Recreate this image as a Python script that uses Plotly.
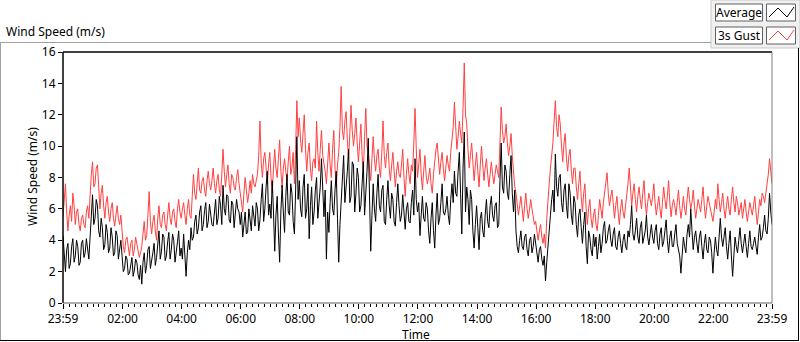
import plotly.graph_objects as go

# one row per hour, 2.5-minute samples, starting 23:59 (previous day)
average = [
    4.3, 2.8, 2.0, 3.4, 3.8, 2.2, 2.5, 3.6, 4.1, 2.6, 3.0, 4.0, 3.6, 2.4, 2.6, 3.8, 4.0, 2.9, 3.2, 4.1, 3.4, 2.8, 4.2, 5.6,
    6.9, 5.0, 5.4, 6.6, 6.2, 4.6, 4.2, 5.4, 4.8, 3.4, 3.7, 5.0, 4.5, 3.2, 3.5, 4.8, 4.2, 3.0, 3.2, 4.6, 4.3, 2.8, 3.4, 4.0,
    3.0, 2.0, 2.2, 3.0, 2.8, 1.8, 1.9, 2.6, 2.9, 1.7, 2.1, 2.8, 2.6, 1.8, 1.5, 2.4, 1.2, 2.6, 3.2, 1.9, 2.4, 3.4, 3.6, 2.2,
    2.6, 3.2, 3.8, 2.4, 2.9, 4.0, 4.6, 2.8, 3.3, 4.4, 4.2, 2.7, 3.0, 3.9, 4.5, 2.8, 3.4, 4.4, 4.0, 2.6, 3.1, 3.9, 4.6, 3.0,
    3.5, 2.8, 4.4, 3.0, 1.7, 3.2, 4.0, 3.4, 4.8, 4.0, 4.2, 5.2, 5.6, 4.4, 4.8, 5.8, 6.2, 4.6, 5.0, 5.9, 6.4, 4.8, 5.2, 6.3,
    5.8, 5.0, 4.9, 6.0, 6.6, 5.0, 5.4, 6.8, 6.2, 5.0, 7.5, 6.0, 5.6, 6.9, 6.8, 5.3, 5.1, 6.5, 6.3, 4.8, 5.5, 6.6, 6.0, 5.8,
    5.0, 5.8, 4.2, 5.2, 5.8, 4.4, 4.5, 6.0, 5.2, 4.6, 6.2, 5.4, 4.9, 6.4, 6.0, 4.6, 5.3, 6.6, 7.6, 5.2, 6.0, 7.4, 8.4, 5.6,
    6.3, 5.4, 7.8, 5.8, 3.3, 5.6, 6.8, 4.4, 2.6, 5.8, 7.5, 5.8, 4.5, 6.8, 8.2, 5.8, 5.6, 7.6, 7.0, 5.2, 4.4, 7.2, 10.6, 6.6,
    7.8, 6.0, 5.5, 7.4, 8.2, 5.4, 6.0, 7.6, 4.1, 6.2, 7.4, 5.0, 5.8, 7.2, 8.0, 5.4, 6.2, 7.4, 9.2, 6.8, 5.5, 7.2, 2.8, 5.8,
    4.5, 6.4, 7.8, 6.0, 5.6, 7.2, 8.4, 5.4, 2.6, 5.0, 6.8, 8.6, 9.4, 6.4, 7.2, 8.4, 9.8, 6.4, 6.8, 9.0, 8.8, 5.8, 7.0, 8.6,
    8.0, 5.8, 6.2, 7.8, 9.0, 5.6, 6.8, 8.4, 10.5, 6.6, 3.3, 5.6, 7.6, 6.0, 5.2, 7.0, 8.2, 6.2, 5.8, 7.2, 7.5, 5.2, 5.0, 6.6,
    7.8, 6.2, 5.4, 7.0, 6.6, 5.2, 4.9, 6.4, 7.6, 6.2, 5.2, 5.6, 6.9, 5.8, 4.7, 6.0, 6.4, 5.2, 5.1, 6.4, 7.2, 5.6, 9.2, 6.6,
    5.8, 6.4, 4.3, 5.6, 6.8, 5.4, 5.2, 6.4, 6.0, 4.6, 3.8, 5.4, 6.4, 4.6, 3.5, 5.6, 7.0, 5.0, 5.4, 6.4, 7.6, 5.8, 5.6, 6.0,
    6.8, 5.6, 5.0, 6.6, 7.6, 6.4, 8.4, 7.0, 6.8, 8.4, 9.6, 7.0, 4.4, 8.6, 10.9, 5.8, 7.4, 6.6, 5.0, 7.2, 6.6, 4.6, 3.5, 5.0,
    6.2, 4.8, 3.4, 5.4, 5.8, 4.6, 4.2, 5.6, 6.6, 5.2, 4.8, 6.2, 6.8, 5.6, 5.2, 6.2, 6.4, 4.8, 5.0, 7.8, 10.2, 7.4, 7.0, 8.8,
    8.4, 7.0, 6.6, 8.2, 9.4, 7.0, 5.8, 7.2, 4.6, 3.6, 3.2, 4.0, 4.6, 3.6, 3.4, 4.2, 4.4, 3.4, 3.0, 4.0, 4.2, 3.2, 3.6, 4.4,
    3.8, 3.2, 2.6, 3.4, 3.6, 2.8, 2.4, 3.0, 1.4, 2.6, 3.8, 4.8, 5.6, 6.6, 7.2, 5.8, 9.5, 7.4, 6.8, 8.0, 8.2, 6.4, 5.8, 7.2,
    7.6, 6.2, 5.4, 7.6, 7.0, 5.6, 5.0, 6.8, 6.4, 5.0, 4.2, 5.6, 6.0, 4.8, 3.8, 5.0, 5.8, 3.6, 2.5, 4.6, 4.2, 3.4, 3.0, 4.4,
    3.6, 4.2, 2.8, 3.6, 4.4, 3.2, 3.8, 4.8, 5.2, 3.8, 4.0, 4.6, 5.0, 4.0, 3.6, 4.4, 4.8, 3.6, 3.4, 4.2, 4.6, 3.8, 3.2, 4.0,
    4.4, 3.6, 3.4, 4.6, 4.2, 5.0, 6.2, 4.4, 4.0, 4.6, 5.4, 4.2, 3.8, 4.8, 5.2, 3.8, 4.2, 4.6, 5.6, 4.2, 3.7, 4.6, 5.0, 4.2,
    3.8, 4.6, 5.0, 3.8, 3.4, 4.4, 4.8, 3.6, 3.9, 4.6, 5.3, 4.0, 3.2, 4.2, 4.6, 3.6, 3.6, 4.4, 5.0, 3.8, 3.4, 3.0, 1.9, 3.4,
    4.2, 3.6, 3.2, 4.4, 5.0, 4.2, 6.0, 4.6, 3.4, 4.2, 4.6, 3.8, 3.2, 4.2, 4.6, 3.6, 2.8, 3.8, 4.4, 3.4, 3.2, 4.2, 4.0, 3.2,
    1.9, 3.2, 4.2, 3.4, 3.0, 4.2, 5.4, 4.2, 3.6, 4.2, 4.8, 3.6, 2.8, 3.8, 4.6, 3.0, 1.7, 3.0, 4.2, 3.6, 3.2, 4.0, 4.8, 3.8,
    3.2, 3.8, 4.4, 3.6, 2.9, 3.8, 4.6, 3.6, 3.4, 3.8, 4.2, 3.6, 3.1, 4.2, 5.0, 4.0, 4.2, 4.8, 5.6, 4.6, 4.4, 5.4, 7.0, 5.8,
    5.0,
]

gust = [
    5.5, 6.8, 7.6, 5.8, 4.6, 5.6, 6.2, 5.2, 7.0, 6.2, 5.0, 5.8, 6.0, 5.0, 4.6, 5.4, 5.6, 5.0, 4.8, 5.8, 6.2, 5.4, 7.4, 8.2,
    9.0, 7.4, 7.6, 8.6, 8.8, 7.0, 6.0, 7.0, 7.5, 6.2, 5.4, 6.4, 6.8, 5.8, 5.2, 6.0, 6.4, 5.4, 4.9, 5.6, 6.2, 5.4, 5.0, 5.6,
    4.4, 3.6, 3.2, 4.0, 4.2, 3.4, 3.0, 3.8, 4.0, 3.0, 3.4, 4.2, 3.8, 3.4, 2.9, 3.2, 3.6, 4.4, 5.2, 4.0, 4.3, 5.6, 7.1, 5.2,
    4.4, 5.2, 5.6, 4.6, 4.0, 5.4, 6.2, 5.0, 4.8, 5.6, 5.8, 5.0, 4.6, 5.6, 6.4, 5.4, 5.0, 5.8, 6.0, 5.2, 4.8, 6.0, 6.6, 5.8,
    5.4, 6.0, 6.4, 5.6, 5.0, 6.0, 6.6, 5.6, 5.4, 6.8, 8.2, 7.0, 6.6, 7.6, 8.6, 7.2, 7.0, 7.8, 8.0, 7.2, 6.8, 7.8, 8.4, 7.6,
    7.2, 7.8, 8.6, 7.6, 7.0, 7.8, 8.2, 7.2, 6.8, 8.2, 9.8, 8.4, 7.4, 8.2, 8.8, 7.6, 7.0, 8.2, 8.0, 7.4, 7.2, 8.0, 8.5, 7.6,
    7.0, 6.2, 5.8, 7.0, 8.0, 7.2, 6.4, 7.0, 7.8, 7.0, 8.2, 7.6, 7.4, 7.8, 8.2, 9.4, 11.6, 9.0, 8.0, 9.2, 9.6, 8.6, 7.6, 8.8,
    9.6, 8.0, 7.0, 8.6, 9.8, 8.6, 8.0, 9.2, 10.4, 8.4, 7.4, 8.6, 9.2, 8.4, 7.8, 9.0, 10.0, 8.2, 8.6, 9.6, 7.6, 9.8, 12.9, 10.6,
    11.8, 10.4, 9.6, 10.8, 12.0, 9.8, 8.4, 9.6, 10.2, 8.6, 7.8, 9.0, 9.2, 8.6, 11.6, 9.6, 8.4, 9.8, 11.0, 9.4, 9.0, 8.4, 7.6, 8.6,
    10.2, 8.8, 8.0, 9.8, 11.0, 8.6, 7.4, 8.8, 9.6, 11.2, 13.8, 11.0, 10.4, 11.6, 12.2, 10.4, 9.2, 10.8, 12.6, 11.0, 10.0, 10.8, 11.8, 10.2,
    9.0, 10.2, 11.4, 9.4, 8.2, 10.6, 12.4, 10.0, 9.6, 8.6, 7.8, 9.2, 10.6, 9.2, 8.4, 9.4, 9.8, 8.6, 8.0, 9.6, 11.6, 9.4, 8.6, 9.6,
    10.2, 8.6, 7.8, 8.8, 9.6, 8.4, 7.4, 8.4, 9.0, 8.2, 8.0, 8.8, 9.8, 8.0, 6.8, 8.2, 9.2, 8.2, 7.6, 8.8, 8.4, 10.2, 12.4, 9.8,
    8.0, 8.8, 9.8, 8.2, 7.2, 8.4, 9.4, 8.2, 7.6, 8.0, 8.6, 7.6, 7.0, 8.2, 9.2, 9.8, 10.2, 9.0, 8.2, 9.0, 9.6, 8.6, 7.8, 8.6,
    9.4, 8.8, 8.4, 9.6, 10.6, 11.2, 12.8, 10.8, 9.8, 10.6, 11.6, 10.8, 10.2, 12.4, 15.3, 12.0, 11.4, 9.8, 8.6, 9.4, 10.2, 9.0, 7.8, 8.8,
    9.6, 8.4, 7.4, 8.8, 10.0, 8.8, 7.8, 8.6, 9.2, 8.2, 7.4, 8.2, 9.0, 8.2, 7.6, 8.2, 8.8, 8.4, 8.0, 10.2, 12.5, 11.0, 10.2, 10.6,
    11.4, 10.2, 9.4, 10.0, 10.8, 9.4, 8.0, 7.4, 7.0, 6.2, 5.6, 6.2, 6.8, 6.0, 5.2, 6.2, 7.0, 6.0, 5.4, 6.0, 6.6, 6.0, 5.6, 5.0,
    5.2, 4.4, 4.0, 4.6, 5.0, 4.2, 3.8, 4.4, 3.5, 5.4, 6.8, 7.6, 8.6, 9.4, 10.2, 11.6, 12.9, 11.2, 10.6, 12.0, 11.4, 10.0, 9.0, 10.2,
    10.8, 9.2, 8.4, 9.4, 9.8, 8.4, 7.6, 8.6, 8.6, 7.4, 6.6, 7.6, 8.4, 6.8, 5.8, 7.0, 7.6, 6.0, 5.0, 6.0, 6.6, 5.4, 4.8, 5.6,
    6.0, 5.0, 4.6, 5.6, 6.6, 6.0, 5.4, 6.4, 7.0, 7.4, 8.3, 7.0, 6.2, 6.8, 7.2, 6.4, 5.4, 6.2, 6.8, 5.8, 5.0, 6.0, 6.6, 5.8,
    5.4, 6.2, 6.8, 7.6, 8.6, 7.2, 6.2, 7.0, 7.6, 6.6, 5.8, 6.8, 7.4, 6.6, 6.0, 7.0, 7.8, 6.4, 5.6, 6.4, 7.0, 6.6, 6.2, 6.8,
    7.6, 6.4, 5.6, 6.2, 6.8, 6.0, 5.4, 6.4, 7.4, 6.6, 6.0, 6.8, 7.8, 6.4, 5.5, 6.2, 6.6, 6.2, 5.6, 6.4, 7.2, 6.2, 5.4, 6.0,
    6.8, 6.0, 5.6, 6.6, 7.4, 6.6, 6.0, 6.4, 7.2, 6.2, 5.4, 6.0, 6.6, 6.2, 5.8, 6.6, 7.4, 6.2, 5.4, 6.2, 6.8, 6.4, 6.0, 5.6,
    5.2, 5.8, 6.6, 6.0, 7.6, 6.6, 5.8, 6.4, 7.0, 6.0, 5.4, 6.2, 6.8, 6.0, 5.6, 6.6, 7.4, 6.4, 5.8, 6.8, 6.4, 5.6, 6.0, 6.4,
    5.4, 6.0, 6.6, 5.8, 5.2, 5.8, 6.4, 6.0, 5.6, 6.2, 6.8, 5.8, 5.0, 5.8, 6.6, 6.2, 7.0, 6.8, 6.4, 7.0, 7.6, 8.2, 9.2, 8.4,
    7.6,
]

# sample times in minutes after 23:59
minutes = [i * 2.5 for i in range(len(average))]

x_tick_vals = [0, 121, 241, 361, 481, 601, 721, 841, 961, 1081, 1201, 1321, 1440]
x_tick_text = ["23:59", "02:00", "04:00", "06:00", "08:00", "10:00", "12:00",
               "14:00", "16:00", "18:00", "20:00", "22:00", "23:59"]
y_tick_vals = [0, 2, 4, 6, 8, 10, 12, 14, 16]

FONT = "Noto Sans"
W, H = 800, 342
L, R, T, B = 63, 772, 52, 303


def px(x):
    # figure pixel -> paper x (paper is relative to the plot area)
    return (x - L) / (R - L)


def py(y):
    return (B - y) / (B - T)


fig = go.Figure()
fig.add_trace(go.Scatter(x=minutes, y=gust, mode="lines", name="3s Gust",
                         line=dict(color="#ff4040", width=1)))
fig.add_trace(go.Scatter(x=minutes, y=average, mode="lines", name="Average",
                         line=dict(color="#000000", width=1)))


def hline(x0, x1, y, color, w=1):
    return dict(type="line", xref="paper", yref="paper", x0=px(x0), x1=px(x1), y0=py(y), y1=py(y),
                line=dict(color=color, width=w))


def vline(x, y0, y1, color, w=1):
    return dict(type="line", xref="paper", yref="paper", x0=px(x), x1=px(x), y0=py(y0), y1=py(y1),
                line=dict(color=color, width=w))


shapes = []
# legend panel
shapes.append(dict(type="rect", xref="paper", yref="paper", x0=px(711), x1=px(800), y0=py(0), y1=py(48),
                   fillcolor="#f0f0f0", line=dict(color="#c8c8c8", width=1), layer="below"))
# outer frame
shapes.append(hline(0, 711, 42.5, "#a0a0a0"))
shapes.append(vline(0.5, 42.5, 341, "#a0a0a0"))
shapes.append(hline(0, 799, 340.5, "#000000"))
shapes.append(vline(798.5, 48, 341, "#000000"))
# legend boxes
for (y0, y1, col) in [(4, 21, "#000000"), (27, 44, "#ff4040")]:
    shapes.append(dict(type="rect", xref="paper", yref="paper", x0=px(715.5), x1=px(762.5), y0=py(y0), y1=py(y1),
                       fillcolor="#ffffff", line=dict(color="#606060", width=1)))
    shapes.append(dict(type="rect", xref="paper", yref="paper", x0=px(766.5), x1=px(795.5), y0=py(y0), y1=py(y1),
                       fillcolor="#ffffff", line=dict(color="#606060", width=1)))
    ya, yb = y1 - 4, y0 + 4
    path = "M {} {} L {} {} L {} {} L {} {}".format(
        px(769), py(ya), px(778), py(yb), px(787), py(ya), px(794), py(yb - 1))
    shapes.append(dict(type="path", xref="paper", yref="paper", path=path,
                       line=dict(color=col, width=1)))
# plot-area frame
shapes.append(hline(L, R, T, "#000000", 1.5))
shapes.append(vline(L, T, B, "#000000", 1.5))
shapes.append(vline(R, T, B, "#808080", 1))
shapes.append(hline(L, R, B, "#606060", 1))

annotations = [
    dict(text="Wind Speed (m/s)", xref="paper", yref="paper", x=px(4), y=py(31), xanchor="left", yanchor="middle",
         showarrow=False, font=dict(family=FONT, size=12, color="#000000")),
    dict(text="Average", xref="paper", yref="paper", x=px(739), y=py(12.5), xanchor="center", yanchor="middle",
         showarrow=False, font=dict(family=FONT, size=12, color="#000000")),
    dict(text="3s Gust", xref="paper", yref="paper", x=px(739), y=py(35.5), xanchor="center", yanchor="middle",
         showarrow=False, font=dict(family=FONT, size=12, color="#000000")),
    dict(text="Time", xref="paper", yref="paper", x=px(416), y=py(334), xanchor="center", yanchor="middle",
         showarrow=False, font=dict(family=FONT, size=12, color="#000000")),
    dict(text="Wind Speed (m/s)", xref="paper", yref="paper", x=px(32), y=py(177), xanchor="center", yanchor="middle",
         textangle=-90, showarrow=False, font=dict(family=FONT, size=12, color="#000000")),
]

fig.update_layout(
    width=W, height=H, autosize=False,
    margin=dict(l=L, r=W - R, t=T, b=H - B, pad=0, autoexpand=False),
    paper_bgcolor="#ffffff", plot_bgcolor="#ffffff",
    showlegend=False,
    font=dict(family=FONT, size=12, color="#000000"),
    shapes=shapes, annotations=annotations,
    xaxis=dict(range=[0, 1440], tickmode="array", tickvals=x_tick_vals, ticktext=x_tick_text,
               ticks="outside", ticklen=5, tickwidth=1, tickcolor="#000000",
               minor=dict(tick0=1, dtick=12, ticks="outside", ticklen=3, tickwidth=1, tickcolor="#000000"),
               showgrid=False, zeroline=False, showline=False, automargin=False,
               tickfont=dict(family=FONT, size=12, color="#000000")),
    yaxis=dict(range=[0, 16], tickmode="array", tickvals=y_tick_vals,
               ticks="outside", ticklen=4, tickwidth=1, tickcolor="#000000",
               showgrid=False, zeroline=False, showline=False, automargin=False,
               tickfont=dict(family=FONT, size=12, color="#000000")),
)

fig.write_html("out.html", config={"displayModeBar": False},
               post_script="document.body.style.margin='0';document.body.style.padding='0';")
